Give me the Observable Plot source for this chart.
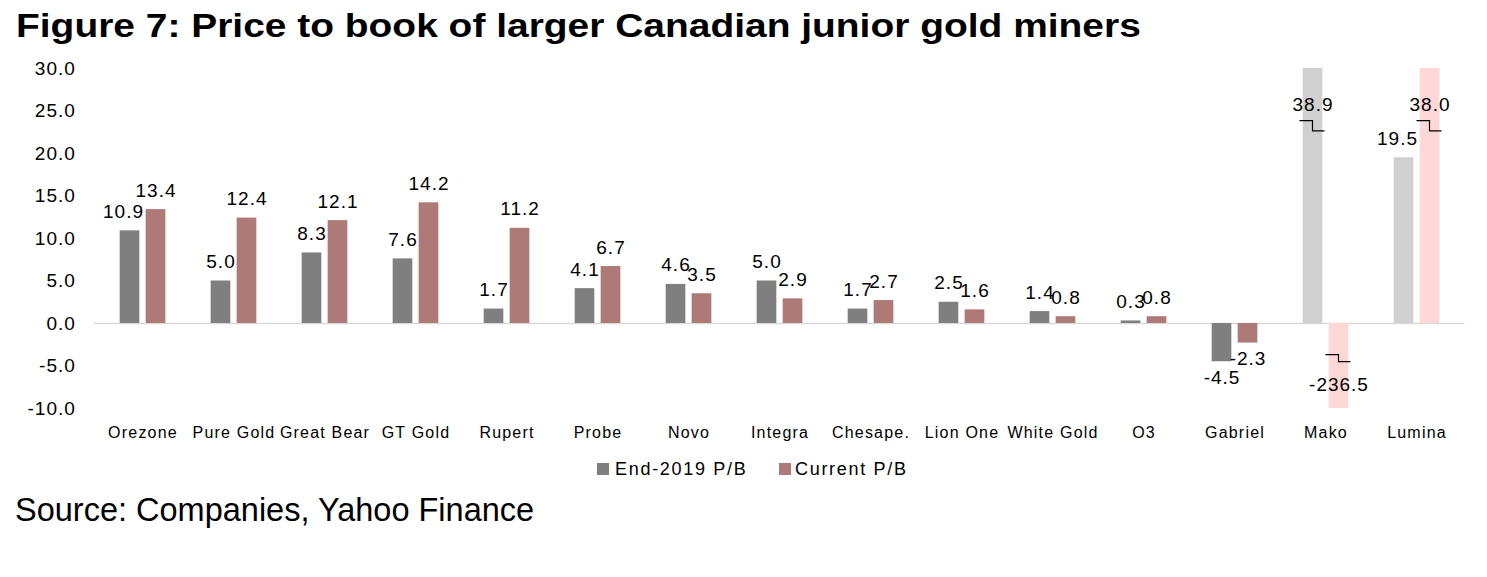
<!DOCTYPE html>
<html><head><meta charset="utf-8">
<script src="https://cdn.jsdelivr.net/npm/d3@7"></script>
<script src="https://cdn.jsdelivr.net/npm/@observablehq/plot@0.6"></script>
<style>
html,body{margin:0;padding:0;background:#fff;}
#page{position:relative;width:1487px;height:577px;overflow:hidden;font-family:"Liberation Sans",Arial,Helvetica,sans-serif;color:#000;}
#title{position:absolute;left:16px;top:8px;font-weight:bold;font-size:34px;line-height:34px;white-space:nowrap;transform:scaleX(1.145);transform-origin:0 0;}
#chart{position:absolute;left:0;top:50px;}
#chart svg text{letter-spacing:1px;}
#chart g[aria-label="x-axis tick label"] text{letter-spacing:1.2px;}
.leg{position:absolute;top:460px;font-size:18px;line-height:18px;letter-spacing:1.7px;white-space:nowrap;}
.sw{position:absolute;top:463px;width:12px;height:12px;}
#source{position:absolute;left:15px;top:494px;font-size:32.5px;line-height:32.5px;white-space:nowrap;}
</style></head><body>
<div id="page">
 <div id="title">Figure 7: Price to book of larger Canadian junior gold miners</div>
 <div id="chart"></div>
 <div id="legend"></div>
 <div id="source">Source: Companies, Yahoo Finance</div>
</div>
<script>
const categories = ["Orezone","Pure Gold","Great Bear","GT Gold","Rupert","Probe","Novo","Integra","Chesape.","Lion One","White Gold","O3","Gabriel","Mako","Lumina"];
const end2019 = [10.9, 5.0, 8.3, 7.6, 1.7, 4.1, 4.6, 5.0, 1.7, 2.5, 1.4, 0.3, -4.5, 38.9, 19.5];
const current = [13.4, 12.4, 12.1, 14.2, 11.2, 6.7, 3.5, 2.9, 2.7, 1.6, 0.8, 0.8, -2.3, -236.5, 38.0];
const seriesNames = ["End-2019 P/B", "Current P/B"];
const faded = ["Mako", "Lumina"];
const yTicks = [-10, -5, 0, 5, 10, 15, 20, 25, 30];

const colors = {normal: ["#7f7f7f", "#ae7a78"], faded: ["#d0d0d0", "#ffd7d7"]};
const yDomain = [d3.min(yTicks), d3.max(yTicks)];
const series = [end2019, current];

const W = 1487, H = 408;
const mL = 94.33, mR = 22.67;
const band = (W - mL - mR) / categories.length;
const barW = 20, gap = 6;
const LABEL_FS = 19;
const charW = 10.25;

const rows = categories.flatMap((c, i) => series.map((vals, s) => {
  const v = vals[i];
  const clipped = v > yDomain[1] || v < yDomain[0];
  const label = v.toFixed(1);
  // Excel-style nudge: a wide positive End-2019 label that would run into a taller neighbouring bar moves left
  const other = series[1 - s][i];
  const over = label.length * charW / 2 - (barW / 2 + gap);
  const nudge = (s === 0 && !clipped && v >= 0 && other > v && over > 0) ? -(over + 2) : 0;
  return {
    cat: c, s, v, clipped, label, nudge,
    fill: (faded.includes(c) ? colors.faded : colors.normal)[s],
    ly: v > yDomain[1] ? yDomain[1] - 4.3 : v < yDomain[0] ? yDomain[0] + 2.75 : v
  };
}));

const insets = [
  {insetLeft: band / 2 - gap / 2 - barW, insetRight: band / 2 + gap / 2},
  {insetLeft: band / 2 + gap / 2, insetRight: band / 2 - gap / 2 - barW}
];
const dxs = [-(gap / 2 + barW / 2), gap / 2 + barW / 2];

const marks = [Plot.ruleY([0], {stroke: "#d9d9d9", strokeWidth: 1.3})];
[0, 1].forEach(s => {
  marks.push(Plot.barY(rows.filter(r => r.s === s), {x: "cat", y: "v", fill: "fill", clip: true, ...insets[s]}));
});
[0, 1].forEach(s => {
  const d = rows.filter(r => r.s === s);
  const common = {x: "cat", y: "ly", text: "label", lineAnchor: "middle", fill: "#000", fontSize: LABEL_FS};
  const nudges = Array.from(new Set(d.map(r => r.nudge)));
  nudges.forEach(n => {
    const dn = d.filter(r => r.nudge === n);
    marks.push(Plot.text(dn.filter(r => !r.clipped && r.v >= 0), {...common, dx: dxs[s] + n, dy: -19}));
    marks.push(Plot.text(dn.filter(r => !r.clipped && r.v < 0), {...common, dx: dxs[s] + n, dy: 16}));
    marks.push(Plot.text(dn.filter(r => r.clipped), {...common, dx: dxs[s] + n}));
  });
});
// axis break marks on clipped bars
marks.push((index, scales) => {
  const x = scales.x, y = scales.y;
  const step = x(categories[1]) - x(categories[0]);
  const g = d3.create("svg:g").attr("fill", "none").attr("stroke", "#000").attr("stroke-width", 1.2);
  rows.filter(r => r.clipped).forEach(r => {
    const cx = x(r.cat) + step / 2 + dxs[r.s];
    const [ya, yb] = r.v > 0 ? [yDomain[1] - 6.2, yDomain[1] - 7.4] : [yDomain[0] + 6.27, yDomain[0] + 5.45];
    g.append("path").attr("d", `M${cx - 13},${y(ya)}H${cx}V${y(yb)}H${cx + 12}`);
  });
  return g.node();
});
marks.push(Plot.axisY(yTicks, {tickSize: 0, tickPadding: 19, tickFormat: d => d.toFixed(1), fill: "#000", fontSize: LABEL_FS}));
marks.push(Plot.axisX({tickSize: 0, tickPadding: 18, fill: "#000", fontSize: 16}));

const chart = Plot.plot({
  width: W, height: H,
  marginTop: 18, marginBottom: 50, marginLeft: mL, marginRight: mR,
  x: {domain: categories, padding: 0, label: null},
  y: {domain: yDomain, label: null},
  color: {type: "identity"},
  style: {fontFamily: "Liberation Sans, Arial, sans-serif", fontSize: "19px", color: "#000", background: "transparent", overflow: "visible"},
  marks
});
document.getElementById("chart").append(chart);

// legend
const legend = document.getElementById("legend");
const legPos = [{sw: 597, tx: 615}, {sw: 779, tx: 795}];
seriesNames.forEach((name, s) => {
  const sw = document.createElement("div");
  sw.className = "sw"; sw.style.left = legPos[s].sw + "px"; sw.style.background = colors.normal[s];
  const t = document.createElement("div");
  t.className = "leg"; t.style.left = legPos[s].tx + "px"; t.textContent = name;
  legend.append(sw, t);
});
</script>
</body></html>
